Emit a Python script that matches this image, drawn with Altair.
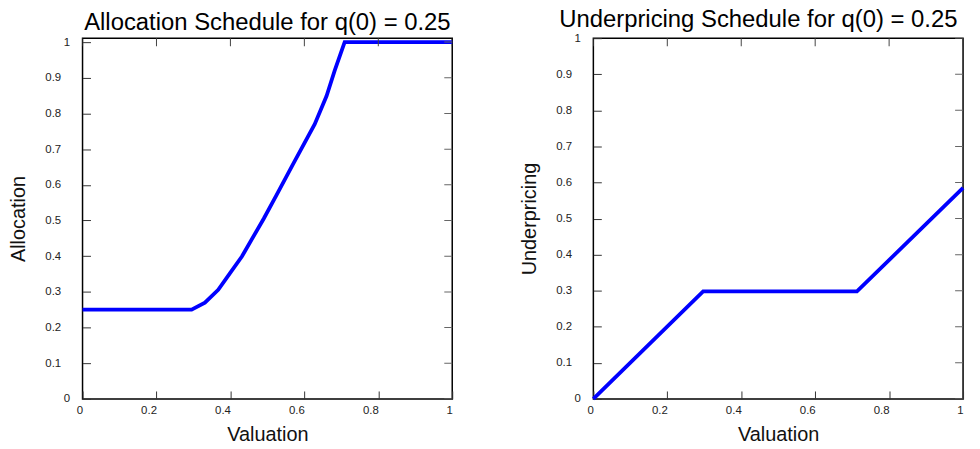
import altair as alt
import pandas as pd

# Allocation schedule (left panel)
alloc_v = [0.0, 0.295, 0.331, 0.367, 0.398, 0.431, 0.490, 0.525, 0.568, 0.628, 0.660, 0.682, 0.709, 1.0]
alloc_q = [0.25, 0.25, 0.270, 0.306, 0.351, 0.399, 0.505, 0.572, 0.655, 0.770, 0.849, 0.920, 1.0, 1.0]

# Underpricing schedule (right panel)
under_v = [0.0, 0.297, 0.713, 1.0]
under_u = [0.0, 0.298, 0.298, 0.585]

x_ticks = [0.0, 0.2, 0.4, 0.6, 0.8, 1.0]
y_ticks = [0.0, 0.1, 0.2, 0.3, 0.4, 0.5, 0.6, 0.7, 0.8, 0.9, 1.0]

FONT = "Liberation Sans"
TICK = 8


def panel(v, y, ymax, title, ytitle, title_dx):
    df = pd.DataFrame({"Valuation": v, "Y": y})
    x_axis = alt.Axis(
        orient="bottom", values=x_ticks, format=".1~f", offset=-TICK, tickSize=TICK,
        domain=False, grid=False, tickColor="#333", tickWidth=1,
        labelAlign="right", labelBaseline="top", labelPadding=6, labelFontSize=11.5,
        labelFlush=False, labelOverlap=False, labelColor="#222", labelFont=FONT,
        title="Valuation", titleFontSize=20, titleFontWeight="normal", titleFont=FONT,
        titleColor="#111", titlePadding=8, minExtent=0,
    )
    y_axis = alt.Axis(
        orient="left", values=y_ticks, format=".1~f", offset=-TICK, tickSize=TICK,
        domain=False, grid=False, tickColor="#333", tickWidth=1,
        labelPadding={"condition": {"test": "datum.value == 0 || datum.value == 1", "value": 13}, "value": 22},
        labelFontSize=11.5, labelFlush=False, labelOverlap=False, labelColor="#222", labelFont=FONT,
        title=ytitle, titleFontSize=20, titleFontWeight="normal", titleFont=FONT,
        titleColor="#111", titlePadding=16, minExtent=0,
    )
    xs = alt.Scale(domain=[0, 1], nice=False, zero=False)
    ys = alt.Scale(domain=[0, ymax], nice=False, zero=False)
    X = alt.X("Valuation:Q", scale=xs, axis=x_axis)
    Y = alt.Y("Y:Q", scale=ys, axis=y_axis)
    main = alt.Chart(df).mark_line(color="#0000FF", strokeWidth=3.8, clip=False).encode(x=X, y=Y)
    # mirrored inward ticks on the right and top edges
    right_df = pd.DataFrame({"Valuation": [1.0] * len(y_ticks), "Y": y_ticks})
    top_df = pd.DataFrame({"Valuation": x_ticks, "Y": [ymax] * len(x_ticks)})
    right_ticks = alt.Chart(right_df).mark_tick(
        orient="horizontal", size=2 * TICK, thickness=1, color="#666", clip=True, opacity=1
    ).encode(x=X, y=Y)
    top_ticks = alt.Chart(top_df).mark_tick(
        orient="vertical", size=2 * TICK, thickness=1, color="#444", clip=True, opacity=1
    ).encode(x=X, y=Y)
    return alt.layer(main, right_ticks, top_ticks).properties(
        width=372, height=363,
        title=alt.TitleParams(title, fontSize=24, fontWeight="normal", font=FONT, color="#000",
                              anchor="middle", baseline="alphabetic", offset=-19, frame="group",
                              dx=title_dx),
    )


left = panel(alloc_v, alloc_q, 1.011, "Allocation Schedule for q(0) = 0.25", "Allocation", 0)
right = panel(under_v, under_u, 1.0, "Underpricing Schedule for q(0) = 0.25", "Underpricing", -20)

chart = alt.hconcat(left, right, spacing=58).properties(
    padding={"left": 0, "top": -2, "right": 0, "bottom": 0}
).configure(font=FONT, view={"stroke": "black", "strokeWidth": 1.5})

chart.save("out.html", embed_options={"renderer": "svg", "actions": False})
